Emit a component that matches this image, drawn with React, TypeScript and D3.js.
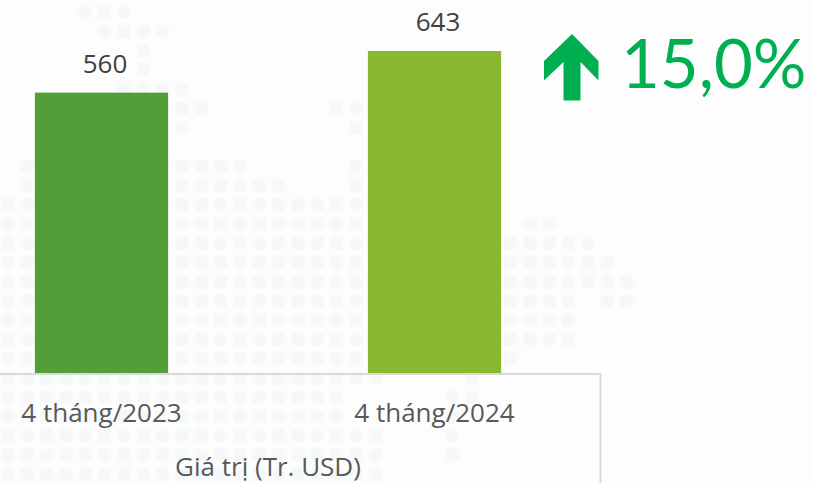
import React from "react";
import * as d3 from "d3";

const categories = ["4 tháng/2023", "4 tháng/2024"];
const values = [560, 643];
const barColors = ["#549e39", "#8ab833"];
const axisTitle = "Giá trị (Tr. USD)";
const changeLabel = "15,0%";
// [row, firstColumn, lastColumn] spans of the decorative dot map
const dotSpans: [number, number, number][] = [
  [0, 4, 6], [1, 5, 8], [2, 7, 7], [3, 7, 7], [4, 6, 9], [5, 6, 10], [5, 17, 18],
  [6, 6, 9], [6, 18, 18], [7, 6, 8], [8, 1, 12], [8, 18, 18], [9, 1, 14], [9, 18, 18],
  [10, 0, 19], [11, 0, 19], [11, 27, 28], [12, 0, 30], [13, 0, 31], [14, 0, 32],
  [15, 0, 29], [15, 31, 32], [16, 0, 29], [17, 0, 29], [18, 0, 26], [19, 0, 19], [19, 24, 24],
  [20, 0, 17], [20, 23, 24], [21, 0, 17], [21, 23, 23], [22, 0, 19], [22, 23, 23], [23, 0, 19], [23, 23, 23], [24, 0, 19],
];

const W = 813, H = 483;
const x = d3.scaleBand<string>().domain(categories).range([-65, 601]).paddingInner(0.6).paddingOuter(0.3);
const y = d3.scaleLinear().domain([0, 643]).range([373.5, 51]);
const dotX = d3.scaleLinear().domain([0, 32]).range([8, 626.5]);
const dotY = d3.scaleLinear().domain([0, 23]).range([12, 455]);
const dots = dotSpans.flatMap(([r, a, b]) => d3.range(a, b + 1).map((c) => [r, c]));
const arrow = d3.line()([[572, 34], [598.5, 61], [598.5, 80.5], [580.5, 62], [580.5, 100.5], [563.5, 100.5], [563.5, 62], [544, 80.5], [544, 61]]) + "Z";
const font = "'Open Sans', sans-serif";

export default function App() {
  return (
    <svg width={W} height={H} viewBox={`0 0 ${W} ${H}`} style={{ position: "fixed", left: 0, top: 0, background: "#fff" }} fontFamily={font}>
      <defs>
        <filter id="soft" x="-5%" y="-5%" width="110%" height="110%">
          <feGaussianBlur stdDeviation={0.9} />
        </filter>
      </defs>
      <rect width={W} height={H} fill="#fdfdfd" />
      <g filter="url(#soft)">
        {dots.map(([r, c]) => (
          <rect key={`${r}-${c}`} x={dotX(c) - 6.5} y={dotY(r) - 6.5} width={13} height={13} rx={4} fill="#f5f8f8" />
        ))}
      </g>
      {categories.map((c, i) => (
        <g key={c}>
          <rect x={x(c)} y={y(values[i])} width={x.bandwidth()} height={y(0) - y(values[i])} fill={barColors[i]} />
          <text x={x(c)! + x.bandwidth() / 2 + 3.5} y={y(values[i]) - 20} textAnchor="middle" fontSize={26} fill="#404040">{values[i]}</text>
          <text x={x(c)! + x.bandwidth() / 2} y={422} textAnchor="middle" fontSize={26} fill="#595959">{c}</text>
        </g>
      ))}
      <path d="M-2 374H600.5V485" fill="none" stroke="#d9d9d9" strokeWidth={2} />
      <text x={268} y={476} textAnchor="middle" fontSize={26} fill="#595959">{axisTitle}</text>
      <path d={arrow} fill="#00b050" />
      <text x={621} y={88} fontSize={67} fill="#00b050" fontFamily="Lato, sans-serif">{changeLabel}</text>
    </svg>
  );
}
